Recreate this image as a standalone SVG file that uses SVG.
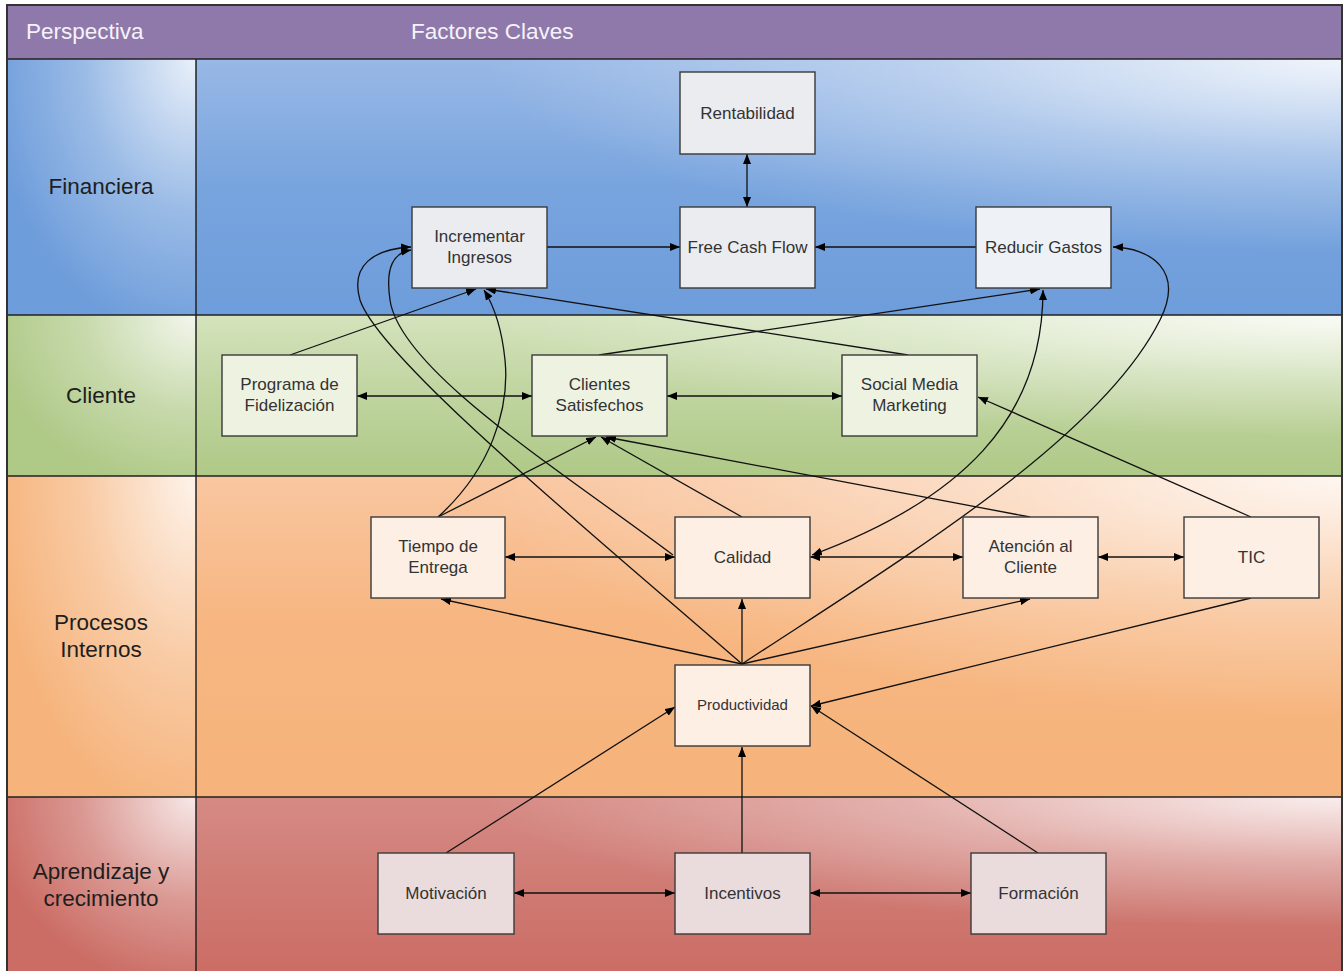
<svg xmlns="http://www.w3.org/2000/svg" width="1344" height="971" viewBox="0 0 1344 971">
<defs>
<style>
.node rect{stroke:#3a3a3a;stroke-width:1.4}
.node text{font-family:"Liberation Sans",Arial,sans-serif;font-size:17px;fill:#333;text-anchor:middle}
.lbl{font-family:"Liberation Sans",Arial,sans-serif;font-size:22.5px;fill:#1e1e1e;text-anchor:middle}
.hdr{font-family:"Liberation Sans",Arial,sans-serif;font-size:22.5px;fill:#f6f2fa}
.fin rect{fill:#ebecf0}
.cli rect{fill:#eef2e1}
.pro rect{fill:#fdefe4}
.apr rect{fill:#eadcdc}
#connectors path{fill:none;stroke:#111;stroke-width:1.3}
.sep{stroke:#222;stroke-width:1.5;fill:none}
</style>
<marker id="ah" viewBox="0 0 10 8" refX="10" refY="4" markerWidth="10" markerHeight="8" markerUnits="userSpaceOnUse" orient="auto-start-reverse">
<path d="M0,0 L10,4 L0,8 Z" fill="#000"/>
</marker>
<linearGradient id="gFin" x1="0" y1="1" x2="0" y2="0">
<stop offset="0" stop-color="#6e9ddb"/><stop offset="0.5" stop-color="#78a4de"/><stop offset="1" stop-color="#98b8e6"/>
</linearGradient>
<linearGradient id="gCli" x1="0" y1="1" x2="0" y2="0">
<stop offset="0" stop-color="#afc987"/><stop offset="0.5" stop-color="#bfd49f"/><stop offset="1" stop-color="#d4e3bc"/>
</linearGradient>
<linearGradient id="gPro" x1="0" y1="1" x2="0" y2="0">
<stop offset="0" stop-color="#f6b37b"/><stop offset="0.55" stop-color="#f7b681"/><stop offset="1" stop-color="#f9c6a0"/>
</linearGradient>
<linearGradient id="gApr" x1="0" y1="1" x2="0" y2="0">
<stop offset="0" stop-color="#cb6d65"/><stop offset="0.5" stop-color="#cf7b74"/><stop offset="1" stop-color="#d68a84"/>
</linearGradient>
<radialGradient id="wLane" cx="1" cy="0" r="0.75">
<stop offset="0" stop-color="#ffffff" stop-opacity="0.85"/><stop offset="0.5" stop-color="#ffffff" stop-opacity="0.35"/><stop offset="1" stop-color="#ffffff" stop-opacity="0"/>
</radialGradient>
<radialGradient id="wCell" cx="1" cy="0" r="1.1">
<stop offset="0" stop-color="#ffffff" stop-opacity="0.85"/><stop offset="0.55" stop-color="#ffffff" stop-opacity="0.3"/><stop offset="1" stop-color="#ffffff" stop-opacity="0"/>
</radialGradient>
</defs>

<g id="background">
<rect x="7" y="5" width="1335" height="54" fill="#8f79ab"/>
<rect x="196" y="59" width="1146" height="256" fill="url(#gFin)"/>
<rect x="196" y="59" width="1146" height="256" fill="url(#wLane)"/>
<rect x="196" y="315" width="1146" height="161" fill="url(#gCli)"/>
<rect x="196" y="315" width="1146" height="161" fill="url(#wLane)"/>
<rect x="196" y="476" width="1146" height="321" fill="url(#gPro)"/>
<rect x="196" y="476" width="1146" height="321" fill="url(#wLane)"/>
<rect x="196" y="797" width="1146" height="174" fill="url(#gApr)"/>
<rect x="196" y="797" width="1146" height="174" fill="url(#wLane)"/>
<rect x="7" y="59" width="189" height="256" fill="#6e9ddb"/>
<rect x="7" y="59" width="189" height="256" fill="url(#wCell)"/>
<rect x="7" y="315" width="189" height="161" fill="#afc987"/>
<rect x="7" y="315" width="189" height="161" fill="url(#wCell)"/>
<rect x="7" y="476" width="189" height="321" fill="#f6b37b"/>
<rect x="7" y="476" width="189" height="321" fill="url(#wCell)"/>
<rect x="7" y="797" width="189" height="174" fill="#cb6d65"/>
<rect x="7" y="797" width="189" height="174" fill="url(#wCell)"/>
<path class="sep" d="M7,59 H1342 M7,315 H1342 M7,476 H1342 M7,797 H1342 M196,59 V971"/>
<path d="M7,972 V5 H1342 V972" fill="none" stroke="#333" stroke-width="2"/>
<text class="hdr" x="26" y="39">Perspectiva</text>
<text class="hdr" x="411" y="39">Factores Claves</text>
<text class="lbl" x="101" y="194">Financiera</text>
<text class="lbl" x="101" y="403">Cliente</text>
<text class="lbl" x="101" y="630">Procesos</text>
<text class="lbl" x="101" y="657">Internos</text>
<text class="lbl" x="101" y="879">Aprendizaje y</text>
<text class="lbl" x="101" y="906">crecimiento</text>
</g>

<g id="connectors" marker-end="url(#ah)">
<path d="M747,154 V207" marker-start="url(#ah)"/>
<path d="M547,247 H680"/>
<path d="M976,247 H815"/>
<path d="M290,355 L476,289"/>
<path d="M908,355 L486,289"/>
<path d="M599,355 L1040,289"/>
<path d="M357,396 H532" marker-start="url(#ah)"/>
<path d="M667,396 H842" marker-start="url(#ah)"/>
<path d="M438,517 L596,437"/>
<path d="M438,517 C490,470 510,410 505,360 C502,330 494,306 484,290"/>
<path d="M742,517 L601,437"/>
<path d="M1030,517 L606,437"/>
<path d="M1251,517 L978,397"/>
<path d="M505,557 H675" marker-start="url(#ah)"/>
<path d="M810,557 H963" marker-start="url(#ah)"/>
<path d="M1098,557 H1184" marker-start="url(#ah)"/>
<path d="M673,555 C560,470 400,370 390,300 C385,266 394,253 411,250"/>
<path d="M742,664 C600,540 380,360 360,300 C350,265 374,249 411,247"/>
<path d="M742,664 C900,560 1100,440 1160,320 C1185,270 1150,248 1113,247"/>
<path d="M812,555 C960,500 1043,420 1043,290" marker-start="url(#ah)"/>
<path d="M742,664 L441,599"/>
<path d="M742,664 V599"/>
<path d="M742,664 L1030,599"/>
<path d="M1251,598 L811,706"/>
<path d="M446,853 L675,707"/>
<path d="M742,853 V747"/>
<path d="M1038,853 L811,706"/>
<path d="M514,893 H675" marker-start="url(#ah)"/>
<path d="M810,893 H971" marker-start="url(#ah)"/>
</g>

<g id="n-rentabilidad" class="node fin"><rect x="680" y="72" width="135" height="82"/><text x="747.5" y="119">Rentabilidad</text></g>
<g id="n-incrementar" class="node fin"><rect x="412" y="207" width="135" height="81"/><text x="479.5" y="242">Incrementar</text><text x="479.5" y="263">Ingresos</text></g>
<g id="n-fcf" class="node fin"><rect x="680" y="207" width="135" height="81"/><text x="747.5" y="253">Free Cash Flow</text></g>
<g id="n-reducir" class="node fin"><rect x="976" y="207" width="135" height="81" style="fill:#eef1f6"/><text x="1043.5" y="253">Reducir Gastos</text></g>
<g id="n-programa" class="node cli"><rect x="222" y="355" width="135" height="81"/><text x="289.5" y="390">Programa de</text><text x="289.5" y="411">Fidelización</text></g>
<g id="n-clientes" class="node cli"><rect x="532" y="355" width="135" height="81"/><text x="599.5" y="390">Clientes</text><text x="599.5" y="411">Satisfechos</text></g>
<g id="n-social" class="node cli"><rect x="842" y="355" width="135" height="81"/><text x="909.5" y="390">Social Media</text><text x="909.5" y="411">Marketing</text></g>
<g id="n-tiempo" class="node pro"><rect x="371" y="517" width="134" height="81"/><text x="438" y="552">Tiempo de</text><text x="438" y="573">Entrega</text></g>
<g id="n-calidad" class="node pro"><rect x="675" y="517" width="135" height="81"/><text x="742.5" y="563">Calidad</text></g>
<g id="n-atencion" class="node pro"><rect x="963" y="517" width="135" height="81"/><text x="1030.5" y="552">Atención al</text><text x="1030.5" y="573">Cliente</text></g>
<g id="n-tic" class="node pro"><rect x="1184" y="517" width="135" height="81"/><text x="1251.5" y="563">TIC</text></g>
<g id="n-productividad" class="node pro"><rect x="675" y="665" width="135" height="81"/><text x="742.5" y="710" style="font-size:15px">Productividad</text></g>
<g id="n-motivacion" class="node apr"><rect x="378" y="853" width="136" height="81"/><text x="446" y="899">Motivación</text></g>
<g id="n-incentivos" class="node apr"><rect x="675" y="853" width="135" height="81"/><text x="742.5" y="899">Incentivos</text></g>
<g id="n-formacion" class="node apr"><rect x="971" y="853" width="135" height="81"/><text x="1038.5" y="899">Formación</text></g>
</svg>
